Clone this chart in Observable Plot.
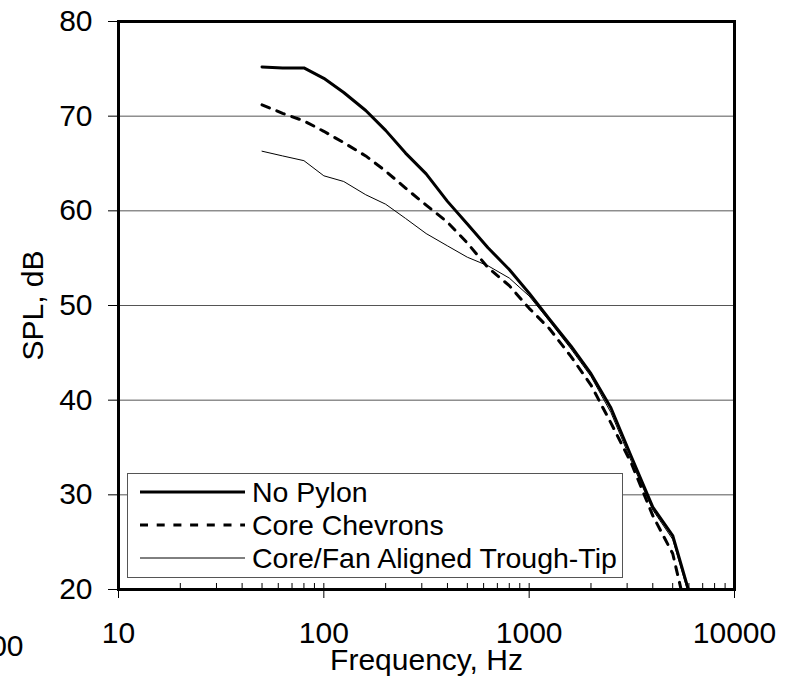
<!DOCTYPE html>
<html>
<head>
<meta charset="utf-8">
<script src="https://cdn.jsdelivr.net/npm/d3@7"></script>
<script src="https://cdn.jsdelivr.net/npm/@observablehq/plot@0.6"></script>
<style>
  html, body { margin: 0; padding: 0; background: white; }
  #chart svg { display: block; }
</style>
</head>
<body>
<div id="chart"></div>
<script>
// ---- Data ----
const freqs = [50, 63, 80, 100, 125, 160, 200, 250, 315, 400, 500, 630, 800, 1000, 1250, 1600, 2000, 2500, 3150, 4000, 5000, 6300];
const noPylon      = [75.2, 75.1, 75.1, 74.0, 72.5, 70.6, 68.5, 66.1, 63.9, 61.0, 58.6, 56.1, 53.8, 51.3, 48.6, 45.7, 42.8, 39.2, 34.0, 28.7, 25.7, 18.2];
const coreChevrons = [71.2, 70.3, 69.5, 68.4, 67.2, 65.8, 64.2, 62.4, 60.6, 58.8, 56.6, 54.0, 52.1, 49.7, 47.6, 44.6, 41.6, 37.6, 33.3, 27.8, 23.8, 14.5];
const coreFanTT    = [66.3, 65.8, 65.3, 63.7, 63.1, 61.7, 60.7, 59.2, 57.6, 56.3, 55.1, 54.2, 52.9, 51.0, 48.4, 45.4, 42.5, 38.7, 33.5, 28.4, 25.3, 17.8];
const seriesNames = ["No Pylon", "Core Chevrons", "Core/Fan Aligned Trough-Tip"];
const xTicks = [10, 100, 1000, 10000];
const xMinorTicks = [20, 30, 40, 50, 60, 70, 80, 90, 200, 300, 400, 500, 600, 700, 800, 900, 2000, 3000, 4000, 5000, 6000, 7000, 8000, 9000];
const yTicks = [20, 30, 40, 50, 60, 70, 80];
const yGrid = [30, 40, 50, 60, 70];

const rows = (vals) => freqs.map((f, i) => ({f, v: vals[i]}));

const W = 794, H = 683, mL = 118, mR = 60, mT = 21, mB = 94;
const frameH = H - mT - mB;

const svg = Plot.plot({
  width: W,
  height: H,
  marginLeft: mL,
  marginRight: mR,
  marginTop: mT,
  marginBottom: mB,
  style: {fontFamily: "'Liberation Sans', Arial, sans-serif", fontSize: "30px", color: "black", background: "white"},
  x: {type: "log", domain: [10, 10000]},
  y: {domain: [20, 80]},
  marks: [
    Plot.gridY(yGrid, {stroke: "#555", strokeOpacity: 1, strokeWidth: 1}),
    Plot.line(rows(coreFanTT), {x: "f", y: "v", stroke: "black", strokeWidth: 1, clip: true}),
    Plot.line(rows(coreChevrons), {x: "f", y: "v", stroke: "black", strokeWidth: 3, strokeDasharray: "8,8", clip: true}),
    Plot.line(rows(noPylon), {x: "f", y: "v", stroke: "black", strokeWidth: 3, clip: true}),
    Plot.frame({stroke: "black", strokeWidth: 3}),
    Plot.tickX(xMinorTicks, {x: d => d, insetTop: frameH - 6, stroke: "black", strokeWidth: 1}),
    Plot.tickX(xTicks, {x: d => d, insetTop: frameH - 6, insetBottom: -9, stroke: "black", strokeWidth: 1}),
    Plot.axisY({ticks: yTicks, tickSize: 10, tickPadding: 16, label: null, tickFormat: d => String(d)}),
    Plot.axisX({ticks: xTicks, tickSize: 0, tickPadding: 32, label: null, tickFormat: d => String(d)}),
    Plot.text(["SPL, dB"], {frameAnchor: "left", dx: -85, rotate: -90, fontSize: 30, textAnchor: "middle", lineAnchor: "middle", text: d => d}),
    Plot.text(["Frequency, Hz"], {frameAnchor: "bottom", dy: 71, fontSize: 30, textAnchor: "middle", lineAnchor: "middle", text: d => d}),
    Plot.text(["00"], {frameAnchor: "bottom-left", dx: -95, dy: 57, textAnchor: "end", lineAnchor: "middle", fontSize: 30, text: d => d})
  ]
});

// ---- Legend ----
const g = d3.select(svg).append("g").attr("class", "legend");
g.append("rect").attr("x", 127.5).attr("y", 473.5).attr("width", 495).attr("height", 104)
  .attr("fill", "white").attr("stroke", "#555").attr("stroke-width", 1);
const legendStyles = [
  {w: 3, dash: null},
  {w: 3, dash: "8,8.7"},
  {w: 1, dash: null}
];
const rowY = [492, 525, 558];
seriesNames.forEach((name, i) => {
  const ln = g.append("line").attr("x1", 140).attr("x2", 245).attr("y1", rowY[i]).attr("y2", rowY[i])
    .attr("stroke", "black").attr("stroke-width", legendStyles[i].w);
  if (legendStyles[i].dash) ln.attr("stroke-dasharray", legendStyles[i].dash);
  g.append("text").attr("x", 252).attr("y", rowY[i] + 10)
    .attr("text-anchor", "start")
    .attr("font-size", 28.5).attr("fill", "black").text(name);
});

document.getElementById("chart").appendChild(svg);
</script>
</body>
</html>
